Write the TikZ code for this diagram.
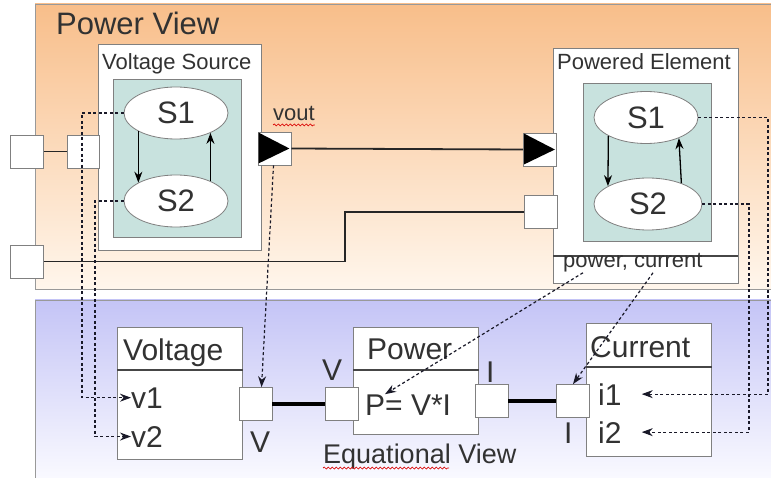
\documentclass[tikz,border=0pt]{standalone}
\usepackage{fontspec}
\setmainfont{Liberation Sans}
\usetikzlibrary{shapes.geometric,arrows.meta,calc,decorations.pathmorphing}
\definecolor{txt}{RGB}{50,50,50}
\definecolor{orangetop}{RGB}{248,190,138}
\definecolor{orangebot}{RGB}{255,246,236}
\definecolor{bluetop}{RGB}{196,196,246}
\definecolor{bluebot}{RGB}{250,250,255}
\definecolor{statefill}{RGB}{200,226,222}
\definecolor{edge}{RGB}{128,128,128}
\definecolor{dline}{RGB}{25,25,40}
\definecolor{divline}{RGB}{70,70,70}
\tikzset{
  lbl/.style={inner sep=0pt, anchor=base west, text=txt},
  huge/.style={font=\fontsize{31}{31}\selectfont},
  big/.style={font=\fontsize{30}{30}\selectfont},
  mid/.style={font=\fontsize{22}{22}\selectfont},
  port/.style={draw=edge, fill=white, line width=0.8pt, minimum width=33pt, minimum height=33pt, inner sep=0pt},
  blockbox/.style={draw=edge, fill=white, line width=0.8pt, inner sep=0pt, anchor=north west},
  tealbox/.style={draw=edge, fill=statefill, line width=0.8pt, inner sep=0pt, anchor=north west},
  state/.style={ellipse, draw=edge, fill=white, line width=0.8pt, minimum width=104pt, minimum height=52pt, inner sep=0pt, text=txt, font=\fontsize{31}{31}\selectfont},
  wire/.style={draw=black!85, line width=1.8pt},
  thickwire/.style={draw=black, line width=4pt},
  trans/.style={draw=black, line width=1.3pt, -{Stealth[length=11pt,width=8pt]}},
  link/.style={draw=dline, line width=1.2pt, dash pattern=on 3pt off 2.5pt, -{Stealth[length=11pt,width=8pt]}},
  divider/.style={draw=divline, line width=1.8pt},
  wavy/.style={draw=red!85!black, line width=0.7pt, decorate, decoration={snake, amplitude=1pt, segment length=4pt}},
  panel/.style={draw=edge!80, line width=0.8pt},
}
\begin{document}
\begin{tikzpicture}[x=1pt, y=-1pt]
\useasboundingbox (0,0) rectangle (771,478);
\fill[white] (0,0) rectangle (771,478);
% panels
\shade[top color=orangetop, bottom color=orangebot, panel] (35,4) rectangle (773,289);
\shade[top color=bluetop, bottom color=bluebot, panel] (35,300) rectangle (773,480);
\node[lbl, huge] (pvtitle) at (56,35) {Power View};

% Voltage source component
\node[blockbox, minimum width=163pt, minimum height=206pt] (vsbox) at (98,44) {};
\node[lbl, mid] (vstitle) at (102,70) {Voltage Source};
\node[tealbox, minimum width=128pt, minimum height=158pt] (vsteal) at (113,79) {};
\node[state] (vs1) at (176,113) {S1};
\node[state] (vs2) at (176,201) {S2};
\draw[trans] (vs1.206) -- (vs2.154);
\draw[trans] (vs2.30) -- (vs1.330);

% Powered element component
\node[blockbox, minimum width=185pt, minimum height=235pt] (pebox) at (553,48) {};
\node[lbl, mid] (petitle) at (557,70) {Powered Element};
\node[tealbox, minimum width=128pt, minimum height=158pt] (peteal) at (583,83) {};
\node[state] (pe1) at (646,117.5) {S1};
\node[state, minimum width=108pt] (pe2s) at (648,204) {S2};
\draw[trans] (pe1.206) -- (pe2s.156);
\draw[trans] (pe2s.32) -- (pe1.328);
\draw[divider, line width=1.4pt] (553,256) -- (738,256);
\node[lbl, mid] (pc) at (563,268) {power, current};

% vout label
\node[lbl, mid] (voutl) at (273,121) {vout};
\draw[wavy] ($(voutl.base west)+(0,4)$) -- ($(voutl.base east)+(0,4)$);

% equational blocks
\node[blockbox, minimum width=125pt, minimum height=132pt] (vblk) at (117,327) {};
\draw[divider] (117,370) -- (243,370);
\node[lbl, big] (vtitle) at (123,360) {Voltage};
\node[lbl, big] (v1) at (131,408) {v1};
\node[lbl, big] (v2) at (131,447) {v2};

\node[blockbox, minimum width=125pt, minimum height=107pt] (pblk) at (353,327) {};
\draw[divider] (353,370) -- (479,370);
\node[lbl, big] (ptitle) at (367,359) {Power};
\node[lbl, big] (peq) at (365,415) {P= V*I};

\node[blockbox, minimum width=125pt, minimum height=133pt] (cblk) at (586,323) {};
\draw[divider] (586,367) -- (712,367);
\node[lbl, big] (ctitle) at (590,357) {Current};
\node[lbl, big] (i1) at (598,405) {i1};
\node[lbl, big] (i2) at (598,443) {i2};

\node[lbl, big] (vlab1) at (250,452) {V};
\node[lbl, big] (vlab2) at (322,380) {V};
\node[lbl, big] (ilab1) at (486,382) {I};
\node[lbl, big] (ilab2) at (564,443) {I};

\node[lbl, font=\fontsize{27}{27}\selectfont] (eqv) at (323,463) {Equational View};
\draw[wavy] ($(eqv.base west)+(0,5)$) -- ($(eqv.base west)+(126,5)$);

% ports
\node[port] (p1) at (27,151.5) {};
\node[port, minimum width=32pt] (p2) at (83,151.5) {};
\node[port] (p3) at (27,261.5) {};
\node[port] (vout) at (274.5,148.5) {};
\node[port] (pein) at (540,149.5) {};
\node[port] (pe2) at (540.5,212) {};
\node[port] (vV) at (255.5,404) {};
\node[port] (pV) at (342,404) {};
\node[port] (pI) at (491.5,401) {};
\node[port] (cI) at (573,401) {};

% wires
\coordinate (bend) at (345,261.5);
\draw[wire] (p1.east) -- (p2.west);
\draw[wire] (p3.east) -- (bend) |- (pe2.west);
\draw[wire] (vout.east) -- (pein.west);
\fill[black] ($(vout.north west)+(1,1)$) -- ($(vout.south west)+(1,-2)$) -- ($(vout.east)+(-2,0)$) -- cycle;
\fill[black] ($(pein.north west)+(1,1)$) -- ($(pein.south west)+(1,-2)$) -- ($(pein.east)+(-2,0)$) -- cycle;
\draw[thickwire] (vV.east) -- (pV.west);
\draw[thickwire] (pI.east) -- (cI.west);

% dashed links
\coordinate (xA) at (82,0);
\coordinate (xB) at (95,0);
\coordinate (xC) at (768,0);
\coordinate (xD) at (749,0);
\draw[link] (vs1.west) -| (xA |- v1.west) -- (v1.west);
\draw[link] (vs2.west) -| (xB |- v2.west) -- (v2.west);
\draw[link] (pe1.east) -| (xC |- i1.east) -- ($(i1.east)+(20,0)$);
\draw[link] (pe2s.east) -| (xD |- i2.east) -- ($(i2.east)+(20,0)$);
\draw[link] ($(vout.south)+(-1,0)$) -- ($(vV.north)+(6,0)$);
\draw[link] ($(pc.south west)+(20,0)$) -- ($(peq.north west)+(20,0)$);
\draw[link] ($(pc.south west)+(90,0)$) -- (cI.north);
\end{tikzpicture}
\end{document}
